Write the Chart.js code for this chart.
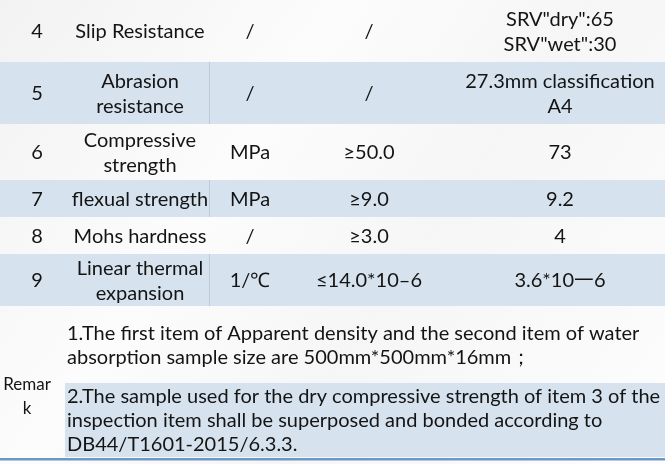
<!DOCTYPE html>
<html>
<head>
<meta charset="utf-8">
<script src="https://cdn.jsdelivr.net/npm/chart.js@4.4.1/dist/chart.umd.min.js"></script>
<style>
  html, body { margin: 0; padding: 0; background: #fff; }
  #wrap { width: 665px; height: 464px; }
</style>
</head>
<body>
<div id="wrap"><canvas id="tabla"></canvas></div>
<script>
// Datos de la tabla (filas 4 a 9 + observaciones)
const numeros = ['4', '5', '6', '7', '8', '9'];
const items = [
    ['Slip Resistance'],
    ['Abrasion', 'resistance'],
    ['Compressive', 'strength'],
    ['flexual strength'],
    ['Mohs hardness'],
    ['Linear thermal', 'expansion']
];
const unidades = ['/', '/', 'MPa', 'MPa', '/', '1/℃'];
const normas = ['/', '/', '≥50.0', '≥9.0', '≥3.0', '≤14.0*10–6'];
const resultados = [
    ['SRV"dry":65', 'SRV"wet":30'],
    ['27.3mm classification', 'A4'],
    ['73'],
    ['9.2'],
    ['4'],
    ['3.6*10一6']
];
const notaTitulo = ['Remar', 'k'];
const notas = [
    ['1.The first item of Apparent density and the second item of water',
     'absorption sample size are 500mm*500mm*16mm；'],
    ['2.The sample used for the dry compressive strength of item 3 of the',
     'inspection item shall be superposed and bonded according to',
     'DB44/T1601-2015/6.3.3.']
];

// Disposición (unidades de las escalas)
const bordesFilas = [0, 62, 124, 180, 217, 254, 306];
const bordesNotas = [306, 383, 457];
const centrosCol = [37, 140, 250, 369, 560];
const divisorCol = 209;
const xNotas = 67;
const xNotasFondo = 65;
const colorAzul = '#d6e2ee';
const colorTexto = '#141414';
const fuente = '20px Lato';

const tablaPlugin = {
    id: 'tabla',
    beforeDraw(chart) {
        const ctx = chart.ctx;
        const sx = chart.scales.x;
        const sy = chart.scales.y;
        const px = v => sx.getPixelForValue(v);
        const py = v => sy.getPixelForValue(v);

        // fondo claro con vetas
        ctx.save();
        const g = ctx.createLinearGradient(0, 0, chart.width, chart.height);
        g.addColorStop(0, '#f2f2f3');
        g.addColorStop(0.35, '#fcfcfc');
        g.addColorStop(0.6, '#f6f6f7');
        g.addColorStop(1, '#fdfdfd');
        ctx.fillStyle = g;
        ctx.fillRect(0, 0, chart.width, chart.height);

        // bandas azules (filas alternas)
        for (let i = 1; i < numeros.length; i += 2) {
            const y0 = py(bordesFilas[i]);
            const h = py(bordesFilas[i + 1]) - y0;
            ctx.fillStyle = colorAzul;
            ctx.fillRect(px(0), y0, px(665) - px(0), h);
            // divisor de columna
            ctx.fillStyle = 'rgba(170,188,208,0.6)';
            ctx.fillRect(px(divisorCol), y0, 1, h);
        }
        ctx.fillStyle = colorAzul;
        ctx.fillRect(px(xNotasFondo), py(bordesNotas[1]), px(665) - px(xNotasFondo), py(bordesNotas[2]) - py(bordesNotas[1]));

        // línea inferior
        ctx.fillStyle = '#6b98c4';
        ctx.fillRect(px(0), py(458), px(665) - px(0), py(460.5) - py(458));

        // texto de las celdas
        ctx.fillStyle = colorTexto;
        ctx.font = fuente;
        ctx.textAlign = 'center';
        ctx.textBaseline = 'middle';
        const lineaH = 25.5;
        const celda = (lineas, col, fila) => {
            const cy = (bordesFilas[fila] + bordesFilas[fila + 1]) / 2 + 1;
            const y0 = cy - (lineas.length - 1) * lineaH / 2;
            lineas.forEach((t, k) => ctx.fillText(t, px(centrosCol[col]), py(y0 + k * lineaH)));
        };
        numeros.forEach((n, i) => {
            celda([n], 0, i);
            celda(items[i], 1, i);
            celda([unidades[i]], 2, i);
            celda([normas[i]], 3, i);
            celda(resultados[i], 4, i);
        });

        // observaciones
        ctx.font = '17px Lato';
        ctx.fillText(notaTitulo[0], px(27), py(385));
        ctx.fillText(notaTitulo[1], px(27), py(409));
        ctx.font = fuente;
        ctx.textAlign = 'left';
        const notaH = 24;
        notas.forEach((lineas, j) => {
            const cy = (bordesNotas[j] + bordesNotas[j + 1]) / 2 + 1;
            const y0 = cy - (lineas.length - 1) * notaH / 2;
            lineas.forEach((t, k) => ctx.fillText(t, px(xNotas), py(y0 + k * notaH)));
        });
        ctx.restore();
    }
};

new Chart(document.getElementById('tabla'), {
    type: 'scatter',
    data: { datasets: [{ data: [] }] },
    options: {
        responsive: true,
        maintainAspectRatio: false,
        animation: false,
        layout: { padding: 0 },
        plugins: { legend: { display: false }, tooltip: { enabled: false } },
        scales: {
            x: { type: 'linear', min: 0, max: 665, display: false },
            y: { type: 'linear', min: 0, max: 464, reverse: true, display: false }
        }
    },
    plugins: [tablaPlugin]
});
</script>
</body>
</html>
